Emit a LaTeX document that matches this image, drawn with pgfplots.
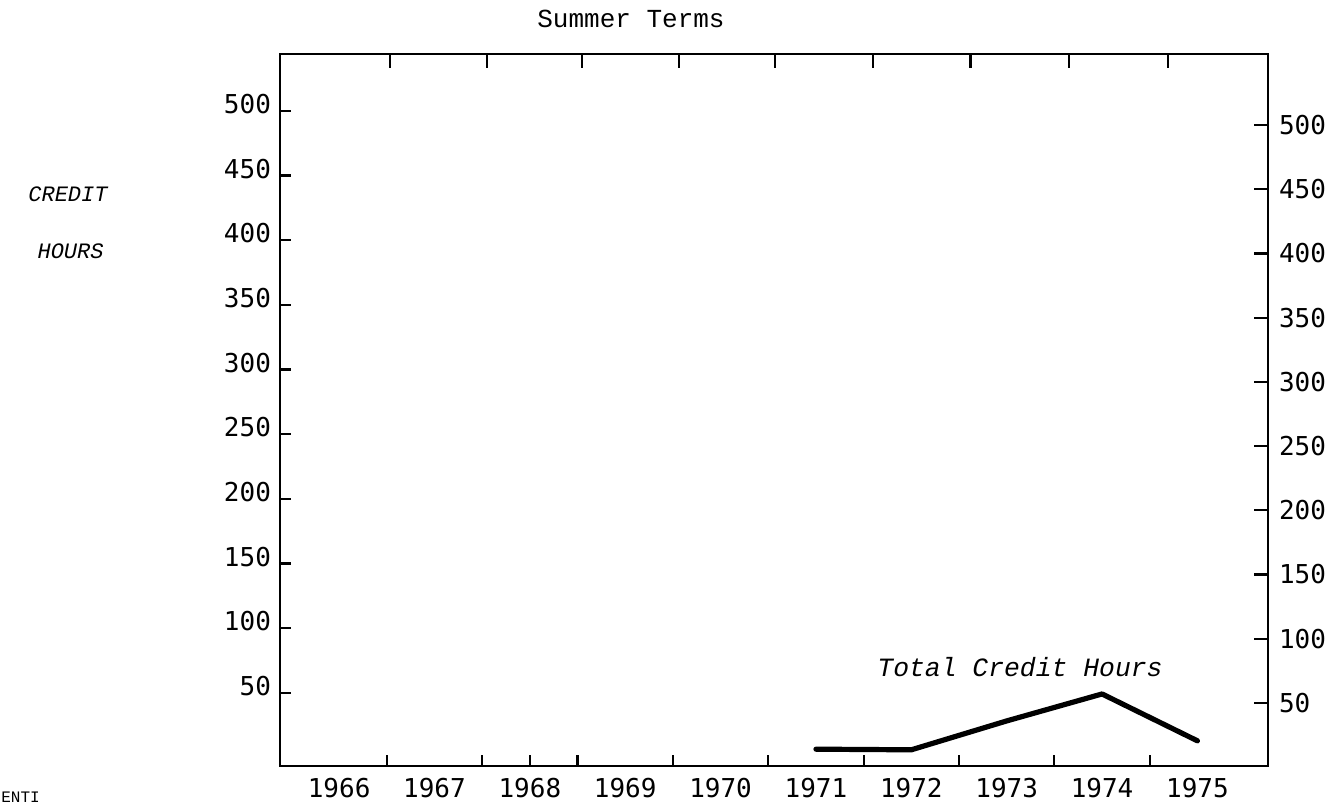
\documentclass[border=0pt]{standalone}
\usepackage{pgfplots}
\pgfplotsset{compat=1.18}
\usepackage{fontspec}
\setmainfont{Liberation Mono}
\newfontfamily\numfont{DejaVu Sans Mono}
\begin{document}
\begin{tikzpicture}
\path[use as bounding box] (0,0) rectangle (667.5pt,402pt);
% left scale, bottom ticks
\begin{axis}[
  at={(140pt,19pt)}, anchor=south west,
  scale only axis, width=494pt, height=356pt,
  xmin=1965.38, xmax=1975.74, ymin=-6.5, ymax=544,
  axis line style={line width=1.3pt},
  tick style={line width=1.1pt, black},
  tick align=inside,
  ytick={50,100,...,500}, ytick pos=left, yticklabel pos=left,
  major tick length=5.5pt,
  xtick={1966.5,1967.5,1968,1968.5,1969.5,1970.5,1971.5,1972.5,1973.5,1974.5},
  xticklabels={}, xtick pos=left,
  extra x ticks={1966,1967,1968,1969,1970,1971,1972,1973,1974,1975},
  extra x tick labels={1966,1967,1968,1969,1970,1971,1972,1973,1974,1975},
  extra x tick style={major tick length=0pt},
  /pgf/number format/assume math mode=true,
  ticklabel style={font=\numfont\fontsize{13}{15}\selectfont},
  yticklabel style={anchor=east, yshift=3.5pt, xshift=-1pt},
  xticklabel style={yshift=-2.5pt},
]
\end{axis}
% right scale, top ticks, data
\begin{axis}[
  at={(140pt,19pt)}, anchor=south west,
  scale only axis, width=494pt, height=356pt,
  xmin=1965.38, xmax=1975.74, ymin=0.9, ymax=555.3,
  axis line style={line width=1.3pt},
  tick style={line width=1.1pt, black},
  tick align=inside,
  ytick={50,100,...,500}, ytick pos=right, yticklabel pos=right,
  major tick length=7pt,
  xtick={1966.53,1967.55,1968.55,1969.56,1970.57,1971.6,1972.62,1973.65,1974.69},
  xticklabels={}, xtick pos=right,
  /pgf/number format/assume math mode=true,
  ticklabel style={font=\numfont\fontsize{13}{15}\selectfont},
  yticklabel style={anchor=west, xshift=2pt},
]
\addplot[black, line width=2.6pt, line join=round, line cap=round] coordinates {
  (1971,14) (1972,13.5) (1973,36) (1974,57) (1975,20.5)
};
\end{axis}
\node[font=\fontsize{13}{15}\selectfont] at (315.5pt,392.5pt) {Summer Terms};
\node[font=\itshape\fontsize{11}{13}\selectfont, anchor=east, inner sep=0pt] at (54pt,305pt) {CREDIT};
\node[font=\itshape\fontsize{11}{13}\selectfont, anchor=east, inner sep=0pt] at (52pt,276.5pt) {HOURS};
\node[font=\itshape\fontsize{13.2}{15}\selectfont] at (510pt,68.5pt) {Total Credit Hours};
\node[font=\fontsize{8}{9}\selectfont, anchor=south west, inner sep=0pt] at (0.5pt,0.5pt) {ENTI};
\end{tikzpicture}
\end{document}
